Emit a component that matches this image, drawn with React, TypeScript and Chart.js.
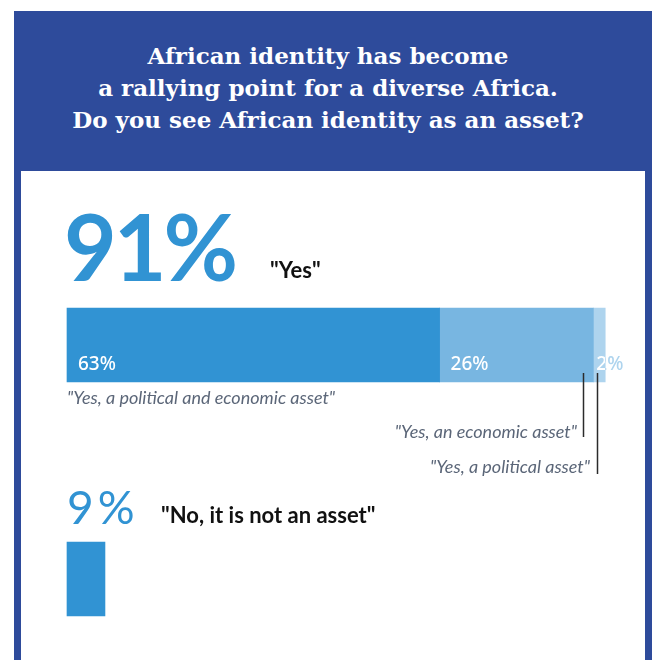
import React, { useEffect, useRef } from "react";
import { Chart, registerables } from "chart.js";

Chart.register(...registerables);

// ---- data ----
const categories = ["Yes", "No"];
const titleLines = [
  "African identity has become",
  "a rallying point for a diverse Africa.",
  "Do you see African identity as an asset?",
];
const politicalAndEconomic = [63, null];
const economicOnly = [26, null];
const politicalOnly = [2, null];
const notAnAsset = [null, 9];
const segmentLabels = ["63%", "26%", "2%"];
const yesTotalLabel = "91%";
const yesLabel = '"Yes"';
const noTotalLabel = "9%";
const noLabel = '"No, it is not an asset"';
const noteLabels = [
  '"Yes, a political and economic asset"',
  '"Yes, an economic asset"',
  '"Yes, a political asset"',
];

const BLUE = "#3193d3";
const MID = "#78b6e1";
const LIGHT = "#aed4ee";
const FRAME = "#2e4b9b";

const labelPlugin = {
  id: "segLabels",
  afterDatasetsDraw(chart: any) {
    const ctx = chart.ctx;
    ctx.save();
    ctx.font = "500 19px 'Noto Sans'";
    ctx.textBaseline = "alphabetic";
    ctx.textAlign = "left";
    for (let i = 0; i < 3; i++) {
      const el: any = chart.getDatasetMeta(i).data[0];
      if (!el) continue;
      const w = el.x - el.base;
      const pad = Math.min(11, w / 4);
      const tx = el.base + pad;
      const ty = el.y + 25;
      const top = el.y - el.height / 2;
      ctx.save();
      ctx.beginPath();
      ctx.rect(el.base, top, w, el.height);
      ctx.clip();
      ctx.fillStyle = "#ffffff";
      ctx.fillText(segmentLabels[i], tx, ty);
      ctx.restore();
      ctx.save();
      ctx.beginPath();
      ctx.rect(el.x, top, 200, el.height);
      ctx.clip();
      ctx.fillStyle = LIGHT;
      ctx.fillText(segmentLabels[i], tx, ty);
      ctx.restore();
    }
    const e1: any = chart.getDatasetMeta(1).data[0];
    const e2: any = chart.getDatasetMeta(2).data[0];
    ctx.strokeStyle = "#2b2b2b";
    ctx.lineWidth = 1.5;
    if (e1) {
      const x = Math.round(e1.x - 10) + 0.5;
      ctx.beginPath();
      ctx.moveTo(x, e1.y + 28);
      ctx.lineTo(x, e1.y + 92);
      ctx.stroke();
    }
    if (e2) {
      const x = Math.round(e2.base + 4) + 0.5;
      ctx.beginPath();
      ctx.moveTo(x, e2.y + 28);
      ctx.lineTo(x, e2.y + 129);
      ctx.stroke();
    }
    ctx.restore();
  },
};

export default function App() {
  const ref = useRef<HTMLCanvasElement | null>(null);

  useEffect(() => {
    if (!ref.current) return;
    const chart = new Chart(ref.current, {
      type: "bar",
      data: {
        labels: categories,
        datasets: [
          { label: noteLabels[0], data: politicalAndEconomic as any, backgroundColor: BLUE, xAxisID: "x", clip: false as any },
          { label: noteLabels[1], data: economicOnly as any, backgroundColor: MID, xAxisID: "x", clip: false as any },
          { label: noteLabels[2], data: politicalOnly as any, backgroundColor: LIGHT, xAxisID: "x", clip: false as any },
          { label: noLabel, data: notAnAsset as any, backgroundColor: BLUE, xAxisID: "x2", clip: false as any },
        ],
      },
      options: {
        indexAxis: "y",
        responsive: false,
        animation: false,
        events: [],
        layout: { padding: { left: 67, right: 49, top: 345, bottom: 81 } },
        datasets: { bar: { barThickness: 74, borderWidth: 0 } } as any,
        plugins: { legend: { display: false }, tooltip: { enabled: false }, title: { display: false } },
        scales: {
          x: { stacked: true, min: 0, max: 91.3, display: false },
          x2: { stacked: true, min: 0, max: 128, display: false },
          y: { stacked: true, offset: false, display: false },
        },
      },
      plugins: [labelPlugin],
    });
    return () => chart.destroy();
  }, []);

  const abs = (s: React.CSSProperties): React.CSSProperties => ({ position: "absolute", margin: 0, whiteSpace: "nowrap", ...s });
  const note: React.CSSProperties = { fontFamily: "Lato, sans-serif", fontStyle: "italic", fontSize: 18, lineHeight: "18px", color: "#5b6678" };

  return (
    <div style={abs({ left: 0, top: 0, width: 656, height: 660, overflow: "hidden", background: "#fff" })}>
      <div style={abs({ left: 14, top: 11, width: 638, height: 660, background: FRAME })} />
      <div style={abs({ left: 21, top: 171, width: 624, height: 500, background: "#fff" })} />
      <div
        style={abs({
          left: 0,
          top: 40,
          width: 656,
          textAlign: "center",
          color: "#fff",
          fontFamily: "'DejaVu Serif', serif",
          fontWeight: 700,
          fontSize: 23,
          lineHeight: "32px",
        })}
      >
        {titleLines.map((t, i) => (
          <div key={i}>{t}</div>
        ))}
      </div>
      <canvas ref={ref} width={656} height={660} style={abs({ left: 0, top: 0, width: 656, height: 660 })} />
      <div style={abs({ left: 64, top: 200, fontFamily: "Lato, sans-serif", fontWeight: 700, fontSize: 91, lineHeight: "91px", color: BLUE, letterSpacing: -3 })}>
        {yesTotalLabel}
      </div>
      <div style={abs({ left: 270, top: 259, fontFamily: "Lato, sans-serif", fontWeight: 700, fontSize: 22, lineHeight: "22px", color: "#111" })}>
        {yesLabel}
      </div>
      <div style={abs({ left: 67, top: 484, fontFamily: "Lato, sans-serif", fontSize: 46, lineHeight: "46px", color: BLUE, letterSpacing: 4 })}>
        {noTotalLabel}
      </div>
      <div style={abs({ left: 161, top: 504, fontFamily: "Lato, sans-serif", fontWeight: 700, fontSize: 22, lineHeight: "22px", color: "#111" })}>
        {noLabel}
      </div>
      <div style={abs({ left: 67, top: 388, ...note })}>{noteLabels[0]}</div>
      <div style={abs({ right: 656 - 577, top: 422, ...note })}>{noteLabels[1]}</div>
      <div style={abs({ right: 656 - 590, top: 457, ...note })}>{noteLabels[2]}</div>
    </div>
  );
}
